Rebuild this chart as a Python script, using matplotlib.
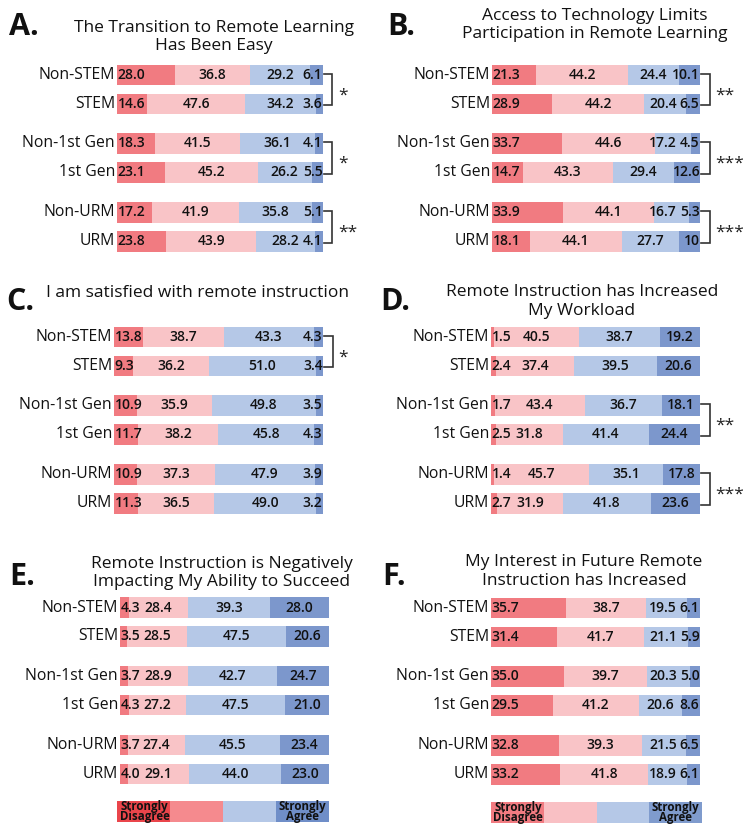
import numpy as np
import matplotlib
matplotlib.use("Agg")
from matplotlib import pyplot as plt

plt.rcParams['font.family'] = ['Open Sans', 'DejaVu Sans']

groups = ['Non-STEM', 'STEM', 'Non-1st Gen', '1st Gen', 'Non-URM', 'URM']

# percent: strongly disagree, disagree, agree, strongly agree
vals_A = [[28.0, 36.8, 29.2, 6.1], [14.6, 47.6, 34.2, 3.6], [18.3, 41.5, 36.1, 4.1],
          [23.1, 45.2, 26.2, 5.5], [17.2, 41.9, 35.8, 5.1], [23.8, 43.9, 28.2, 4.1]]
vals_B = [[21.3, 44.2, 24.4, 10.1], [28.9, 44.2, 20.4, 6.5], [33.7, 44.6, 17.2, 4.5],
          [14.7, 43.3, 29.4, 12.6], [33.9, 44.1, 16.7, 5.3], [18.1, 44.1, 27.7, 10]]
vals_C = [[13.8, 38.7, 43.3, 4.3], [9.3, 36.2, 51.0, 3.4], [10.9, 35.9, 49.8, 3.5],
          [11.7, 38.2, 45.8, 4.3], [10.9, 37.3, 47.9, 3.9], [11.3, 36.5, 49.0, 3.2]]
vals_D = [[1.5, 40.5, 38.7, 19.2], [2.4, 37.4, 39.5, 20.6], [1.7, 43.4, 36.7, 18.1],
          [2.5, 31.8, 41.4, 24.4], [1.4, 45.7, 35.1, 17.8], [2.7, 31.9, 41.8, 23.6]]
vals_E = [[4.3, 28.4, 39.3, 28.0], [3.5, 28.5, 47.5, 20.6], [3.7, 28.9, 42.7, 24.7],
          [4.3, 27.2, 47.5, 21.0], [3.7, 27.4, 45.5, 23.4], [4.0, 29.1, 44.0, 23.0]]
vals_F = [[35.7, 38.7, 19.5, 6.1], [31.4, 41.7, 21.1, 5.9], [35.0, 39.7, 20.3, 5.0],
          [29.5, 41.2, 20.6, 8.6], [32.8, 39.3, 21.5, 6.5], [33.2, 41.8, 18.9, 6.1]]

titles = {
    'A': ['The Transition to Remote Learning', 'Has Been Easy'],
    'B': ['Access to Technology Limits', 'Participation in Remote Learning'],
    'C': ['I am satisfied with remote instruction'],
    'D': ['Remote Instruction has Increased', 'My Workload'],
    'E': ['Remote Instruction is Negatively', 'Impacting My Ability to Succeed'],
    'F': ['My Interest in Future Remote', 'Instruction has Increased'],
}
# significance of each pair (Non-X vs X)
sig = {
    'A': ['*', '*', '**'],
    'B': ['**', '***', '***'],
    'C': ['*', '', ''],
    'D': ['', '**', '***'],
    'E': ['', '', ''],
    'F': ['', '', ''],
}
legend_labels = ['Strongly\nDisagree', '', '', 'Strongly\nAgree']

colors = ['#f17b81', '#f9c4c7', '#b5c8e7', '#7c97cc']
legend_colors = {'E': ['#ea454b', '#f58a8e', '#b5c8e7', '#6f8ec8'],
                 'F': ['#f17b81', '#f9c0c4', '#b5c8e7', '#7f9bcd']}

W, H = 752, 832
fig = plt.figure(figsize=(W / 100, H / 100), dpi=100)

rowpos = np.array([0, 1, 2.36, 3.36, 4.74, 5.74])
pitch = 29.0
NUMSIZE = 10

def fx(x):
    return x / W

def fy(y):
    return 1 - y / H

# panel: values, bar left px, bar right px, first row center px
panels = {
    'A': (vals_A, 117, 323, 75),
    'B': (vals_B, 492, 700, 75),
    'C': (vals_C, 114, 323, 337),
    'D': (vals_D, 491, 700, 337),
    'E': (vals_E, 120, 329, 607.5),
    'F': (vals_F, 491, 700, 608),
}
# letter position, title center x, title last baseline y
heads = {
    'A': (9, 35, 214, 50),
    'B': (387, 35, 595, 38),
    'C': (6, 310, 198, 297),
    'D': (380, 310, 582, 315),
    'E': (9, 585, 222, 586),
    'F': (382, 585, 584, 585),
}

def fmt(v):
    return str(v) if isinstance(v, int) else '%.1f' % v

def txtw(s):
    # rough width in px of a number label
    return sum(3.9 if c == '.' else 7.9 for c in s) * NUMSIZE / 10

for key, (vals, x0, x1, ytop) in panels.items():
    v = np.array(vals, dtype=float)
    v = v / v.sum(axis=1, keepdims=True) * 100
    u = 100.0 / (x1 - x0)  # data units per px
    top = ytop - 0.5 * pitch
    height = 6.74 * pitch
    ax = fig.add_axes([fx(x0), fy(top + height), (x1 - x0) / W, height / H])
    ax.set_xlim(0, 100)
    ax.set_ylim(6.24, -0.5)
    ax.axis('off')
    left = np.zeros(len(v))
    kw = dict(va='center', fontsize=NUMSIZE, fontweight='semibold', color='#111111')
    for j in range(4):
        ax.barh(rowpos, v[:, j], left=left, height=0.7, color=colors[j], lw=0)
        left += v[:, j]
    for i in range(len(v)):
        starts = np.concatenate([[0], np.cumsum(v[i])[:-1]])
        labs = [fmt(x) for x in vals[i]]
        ax.text(0.4, rowpos[i], labs[0], ha='left', **kw)
        ax.text(starts[1] + v[i, 1] / 2, rowpos[i], labs[1], ha='center', **kw)
        if v[i, 3] < 12:
            ax.text(99.8, rowpos[i], labs[3], ha='right', **kw)
            last_left = 99.8 - txtw(labs[3]) * u
        else:
            c3 = starts[3] + v[i, 3] / 2
            ax.text(c3, rowpos[i], labs[3], ha='center', **kw)
            last_left = c3 - txtw(labs[3]) * u / 2
        c2 = starts[2] + v[i, 2] / 2
        c2 = min(c2, last_left - 3 * u - txtw(labs[2]) * u / 2)
        ax.text(c2, rowpos[i], labs[2], ha='center', **kw)
    for i, g in enumerate(groups):
        ax.text(-1.0, rowpos[i], g, ha='right', va='center', fontsize=11.3, color='#111111')
    for k, s in enumerate(sig[key]):
        if not s:
            continue
        ya, yb = rowpos[2 * k] - 0.05, rowpos[2 * k + 1] + 0.05
        ax.plot([100.5, 104.6, 104.6, 100.5], [ya, ya, yb, yb], color='#333333',
                lw=1.2, clip_on=False, solid_joinstyle='miter')
        ax.text(107.5, (ya + yb) / 2 + 0.2, s, ha='left', va='center', fontsize=12.5,
                color='#222222')

    lx, lby, tcx, tby = heads[key]
    fig.text(fx(lx), fy(lby), key + '.', fontsize=22, fontweight='bold',
             ha='left', va='baseline', color='#111111')
    lines = titles[key]
    for n, line in enumerate(lines):
        yb = tby - (len(lines) - 1 - n) * 18.5
        fig.text(fx(tcx), fy(yb), line, fontsize=12.5, ha='center', va='baseline',
                 color='#111111')

# legends under E and F
for key, (x0, x1, yc) in {'E': (117, 329, 811.5), 'F': (491, 702, 812.5)}.items():
    lax = fig.add_axes([fx(x0), fy(yc + 10.5), (x1 - x0) / W, 21 / H])
    lax.set_xlim(0, 100)
    lax.set_ylim(-0.5, 0.5)
    lax.axis('off')
    seg = [25, 25, 25, 25]
    for j in range(4):
        lax.barh([0], [seg[j]], left=sum(seg[:j]), height=1, color=legend_colors[key][j], lw=0)
    lax.text(seg[0] / 2 + 0.5, 0.0, legend_labels[0], ha='center', va='center',
             fontsize=8.3, fontweight='bold', linespacing=0.78, color='#111111')
    lax.text(sum(seg[:3]) + seg[3] / 2, 0.0, legend_labels[3], ha='center', va='center',
             fontsize=8.3, fontweight='bold', linespacing=0.78, color='#111111')

fig.savefig('out.png', dpi=100)
